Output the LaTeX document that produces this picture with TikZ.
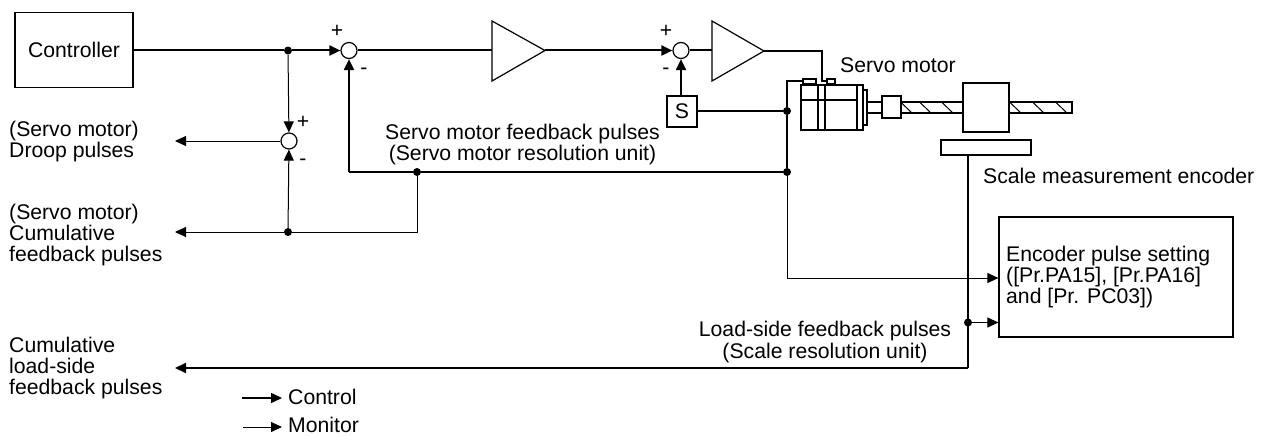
\documentclass[tikz,border=0pt]{standalone}
\usepackage{fontspec}
\setmainfont{Liberation Sans}
\usepackage{xcolor}
\usetikzlibrary{arrows.meta, positioning}
\tikzset{
    block/.style = {rectangle, draw=black, line width=1.2pt, inner sep=0pt, fill=white, font=\fontsize{21.2}{21}\selectfont},
    sumpoint/.style = {circle, draw=black, line width=1.2pt, fill=white, minimum size=16pt, inner sep=0pt},
    junction/.style = {circle, fill=black, minimum size=8pt, inner sep=0pt},
    label/.style = {inner sep=0pt, align=left, font=\fontsize{21.2}{21.3}\selectfont},
    part/.style = {draw=black, line width=1.2pt, fill=white},
    control/.style = {line width=2pt},
    controlarrow/.style = {control, -{Triangle[length=11pt,width=10pt]}},
    monitor/.style = {line width=1pt},
    monitorarrow/.style = {monitor, -{Triangle[length=11pt,width=10pt]}}
}
\begin{document}
\begin{tikzpicture}[x=1pt, y=-1pt]
\useasboundingbox (0,0) rectangle (1270,436);

% blocks
\node (controller) [block, minimum width=118pt, minimum height=75pt] at (74,50) {Controller};
\node (sumone) [sumpoint] at (349,50.5) {};
\node (sumtwo) [sumpoint] at (681,50.5) {};
\node (sumdroop) [sumpoint] at (289,141) {};
\node (speed) [block, minimum width=30pt, minimum height=31pt] at (682,111.5) {S};
\node (encset) [block, minimum width=234pt, minimum height=120pt] at (1116,277) {};
\node (scale) [block, minimum width=90pt, minimum height=15pt] at (986,147.5) {};

% amplifiers
\coordinate (ampone) at (492,50.5);
\coordinate (amponetip) at (545,50.5);
\coordinate (amptwo) at (712,50.5);
\coordinate (amptwotip) at (764,51);
\draw [part] (492,21) -- (492,81) -- (amponetip) -- cycle;
\draw [part] (712,21) -- (712,81) -- (amptwotip) -- cycle;

% servo motor
\draw [part] (801,85) rectangle (863,130);
\draw [part] (863,90) rectangle (867,125);
\draw [part] (801,100) -- (857,100);
\draw [part] (818,85) -- (818,130);
\draw [part] (825,85) -- (825,130);
\draw [part] (857,85) -- (857,130);
\node (termone) [block, minimum width=13pt, minimum height=5pt] at (809.5,81.5) {};
\node (termtwo) [block, minimum width=8pt, minimum height=5pt] at (831,81.5) {};

% ball screw
\draw [part] (867,102) rectangle (882,113);
\draw [part] (901,102) rectangle (963,113);
\draw [part] (1009,102) rectangle (1072,113);
\foreach \xa in {901,920,942,1010,1033,1056}
    \draw [line width=1pt] (\xa,102.5) -- ++(11,10.5);
\node (coupling) [block, minimum width=19pt, minimum height=22pt] at (891.5,107) {};
\node (nut) [block, minimum width=46pt, minimum height=49pt] at (986,107.5) {};

% junctions
\node (splitcmd) [junction] at (288,50.5) {};
\node (splitcum) [junction] at (288,232) {};
\node (splitfb) [junction] at (417,172) {};
\node (splitspeed) [junction] at (787,111) {};
\node (splitmotor) [junction] at (787,172) {};
\node (splitload) [junction] at (968,322.5) {};

% free ends
\coordinate (droopout) at (175,141);
\coordinate (cumout) at (175,232);
\coordinate (loadout) at (175,368);
\coordinate (loadcorner) at (968,368);
\coordinate (fbcorner) at (349,172);
\coordinate (legendcs) at (242,398);
\coordinate (legendce) at (282,398);
\coordinate (legendms) at (243,427);
\coordinate (legendme) at (282,427);

% control lines
\draw [control] (controller.east |- splitcmd) -- (splitcmd);
\draw [controlarrow] (splitcmd) -- (sumone);
\draw [control] (sumone) -- (ampone);
\draw [controlarrow] (amponetip) -- (sumtwo);
\draw [control] (sumtwo) -- (amptwo);
\draw [control] (amptwotip) -- (822,51) |- (termtwo.west);
\draw [controlarrow] (speed.north -| sumtwo) -- (sumtwo);
\draw [control] (speed.east |- splitspeed) -- (splitspeed);
\draw [control] (termone.west) -| (splitspeed);
\draw [control] (splitspeed) -- (splitmotor);
\draw [control] (splitmotor) -- (splitfb);
\draw [control] (splitfb) -- (fbcorner);
\draw [controlarrow] (fbcorner) -- (sumone);
\draw [control] (scale.south -| loadcorner) -- (loadcorner);
\draw [controlarrow] (loadcorner) -- (loadout);

% monitor lines
\draw [monitorarrow] (splitcmd) -- (sumdroop);
\draw [monitorarrow] (splitcum) -- (sumdroop);
\draw [monitorarrow] (sumdroop) -- (droopout);
\draw [monitorarrow] (splitcum) -- (cumout);
\draw [monitor] (splitfb) |- (splitcum);
\draw [monitorarrow] (splitmotor) |- (encset.west |- 0,278);
\draw [monitorarrow] (splitload) -- (encset.west |- splitload);
\draw [controlarrow, line width=1.5pt] (legendcs) -- (legendce);
\draw [monitorarrow] (legendms) -- (legendme);

% signs
\node [label] at (337,31) {+};
\node [label] at (364,71) {-};
\node [label] at (666,31) {+};
\node [label] at (666,71) {-};
\node [label] at (303,122) {+};
\node [label] at (303,162) {-};

% labels
\node [label, anchor=west] at (840,65) {Servo motor};
\node [label, anchor=west] at (983,176) {Scale measurement encoder};
\node [label, align=center] at (522.5,144.5) {Servo motor feedback pulses\\(Servo motor resolution unit)};
\node [label, align=center] at (825,342) {Load-side feedback pulses\\(Scale resolution unit)};
\node [label, anchor=west] at (1006,277) {Encoder pulse setting\\([Pr.PA15], [Pr.PA16]\\and [Pr. PC03])};
\node [label, anchor=west] at (9,141.5) {(Servo motor)\\Droop pulses};
\node [label, anchor=west] at (9,235) {(Servo motor)\\Cumulative\\feedback pulses};
\node [label, anchor=west] at (9,368) {Cumulative\\load-side\\feedback pulses};
\node [label, anchor=west] at (288,397) {Control};
\node [label, anchor=west] at (288,425) {Monitor};
\end{tikzpicture}
\end{document}
